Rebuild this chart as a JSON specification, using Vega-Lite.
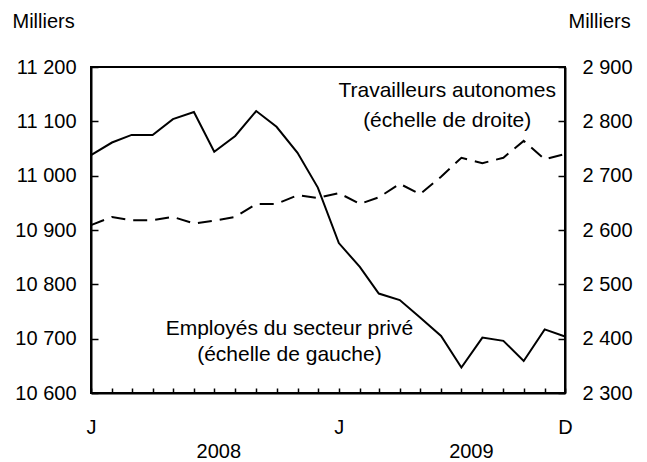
{
  "$schema": "https://vega.github.io/schema/vega-lite/v6.json",
  "width": 474,
  "height": 326,
  "autosize": {"type": "none"},
  "padding": {"left": 91, "top": 67, "right": 82, "bottom": 69},
  "background": "white",
  "config": {
    "font": "Liberation Sans",
    "view": {"stroke": "black", "strokeWidth": 2},
    "axis": {
      "domainColor": "black", "domainWidth": 2, "tickColor": "black", "tickWidth": 1.5,
      "labelColor": "black", "labelFont": "Liberation Sans", "labelFontSize": 20,
      "titleColor": "black", "titleFont": "Liberation Sans", "titleFontSize": 20, "titleFontWeight": "normal",
      "grid": false, "labelOverlap": false, "labelBound": false, "labelFlush": false
    }
  },
  "datasets": {
    "series": [
      {"date": "2008-01-01", "emp": 11038, "self": 2609},
      {"date": "2008-02-01", "emp": 11061, "self": 2624},
      {"date": "2008-03-01", "emp": 11075, "self": 2618},
      {"date": "2008-04-01", "emp": 11075, "self": 2618},
      {"date": "2008-05-01", "emp": 11104, "self": 2624},
      {"date": "2008-06-01", "emp": 11117, "self": 2612},
      {"date": "2008-07-01", "emp": 11044, "self": 2617},
      {"date": "2008-08-01", "emp": 11073, "self": 2624},
      {"date": "2008-09-01", "emp": 11119, "self": 2648},
      {"date": "2008-10-01", "emp": 11090, "self": 2648},
      {"date": "2008-11-01", "emp": 11042, "self": 2664},
      {"date": "2008-12-01", "emp": 10978, "self": 2659},
      {"date": "2009-01-01", "emp": 10876, "self": 2668},
      {"date": "2009-02-01", "emp": 10832, "self": 2648},
      {"date": "2009-03-01", "emp": 10783, "self": 2660},
      {"date": "2009-04-01", "emp": 10771, "self": 2685},
      {"date": "2009-05-01", "emp": 10739, "self": 2666},
      {"date": "2009-06-01", "emp": 10705, "self": 2698},
      {"date": "2009-07-01", "emp": 10647, "self": 2733},
      {"date": "2009-08-01", "emp": 10702, "self": 2723},
      {"date": "2009-09-01", "emp": 10696, "self": 2733},
      {"date": "2009-10-01", "emp": 10659, "self": 2764},
      {"date": "2009-11-01", "emp": 10717, "self": 2730},
      {"date": "2009-12-01", "emp": 10704, "self": 2740}
    ],
    "notesLeft": [
      {"date": "2008-10-20", "emp": 10707, "label": "Employés du secteur privé"},
      {"date": "2008-10-20", "emp": 10659, "label": "(échelle de gauche)"}
    ],
    "notesRight": [
      {"date": "2009-06-10", "self": 2845, "label": "Travailleurs autonomes"},
      {"date": "2009-06-10", "self": 2790, "label": "(échelle de droite)"}
    ],
    "years": [
      {"date": "2008-07-07", "year": "2008"},
      {"date": "2009-07-15", "year": "2009"}
    ]
  },
  "resolve": {"scale": {"y": "independent"}, "axis": {"x": "independent"}},
  "layer": [
    {
      "layer": [
        {
          "data": {"name": "series"},
          "mark": {"type": "line", "color": "black", "strokeWidth": 2},
          "encoding": {
            "x": {
              "field": "date", "type": "temporal",
              "scale": {"type": "utc", "domain": [1199145600000, 1259625600000]},
              "axis": {
                "orient": "bottom",
                "title": null,
                "values": [1199145600000, 1201824000000, 1204329600000, 1207008000000, 1209600000000, 1212278400000, 1214870400000, 1217548800000, 1220227200000, 1222819200000, 1225497600000, 1228089600000, 1230768000000, 1233446400000, 1235865600000, 1238544000000, 1241136000000, 1243814400000, 1246406400000, 1249084800000, 1251763200000, 1254355200000, 1257033600000, 1259625600000],
                "tickCount": 100,
                "labelExpr": "utcmonth(datum.value) == 0 ? 'J' : ((utcmonth(datum.value) == 11 && utcyear(datum.value) == 2009) ? 'D' : '')",
                "tickSize": -5,
                "labelPadding": 39,
                "labelBaseline": "middle"
              }
            },
            "y": {
              "field": "emp", "type": "quantitative",
              "scale": {"domain": [10600, 11200], "nice": false, "zero": false},
              "axis": {
                "orient": "left",
                "values": [10600, 10700, 10800, 10900, 11000, 11100, 11200],
                "tickCount": 100,
                "labelExpr": "replace(format(datum.value, ','), ',', ' ')",
                "tickSize": -7,
                "labelPadding": 22,
                "title": "Milliers",
                "titleAngle": 0, "titleAlign": "left", "titleBaseline": "alphabetic",
                "titleX": -79, "titleY": -40
              }
            }
          }
        },
        {
          "data": {"name": "notesLeft"},
          "mark": {"type": "text", "align": "center", "baseline": "alphabetic", "fontSize": 21, "font": "Liberation Sans", "color": "black"},
          "encoding": {
            "x": {"field": "date", "type": "temporal"},
            "y": {"field": "emp", "type": "quantitative"},
            "text": {"field": "label"}
          }
        }
      ]
    },
    {
      "layer": [
        {
          "data": {"name": "series"},
          "mark": {"type": "line", "color": "black", "strokeWidth": 2, "strokeDash": [14, 8]},
          "encoding": {
            "x": {"field": "date", "type": "temporal", "axis": null},
            "y": {
              "field": "self", "type": "quantitative",
              "scale": {"domain": [2300, 2900], "nice": false, "zero": false},
              "axis": {
                "orient": "right",
                "values": [2300, 2400, 2500, 2600, 2700, 2800, 2900],
                "tickCount": 100,
                "labelExpr": "replace(format(datum.value, ','), ',', ' ')",
                "tickSize": -7,
                "labelPadding": 24,
                "title": "Milliers",
                "titleAngle": 0, "titleAlign": "left", "titleBaseline": "alphabetic",
                "titleX": 3, "titleY": -40
              }
            }
          }
        },
        {
          "data": {"name": "notesRight"},
          "mark": {"type": "text", "align": "center", "baseline": "alphabetic", "fontSize": 21, "font": "Liberation Sans", "color": "black"},
          "encoding": {
            "x": {"field": "date", "type": "temporal"},
            "y": {"field": "self", "type": "quantitative"},
            "text": {"field": "label"}
          }
        }
      ]
    },
    {
      "data": {"name": "years"},
      "mark": {"type": "text", "opacity": 0},
      "encoding": {
        "x": {
          "field": "date", "type": "temporal",
          "axis": {
            "orient": "bottom",
            "title": null,
            "values": [1215388800000, 1247616000000],
            "labelExpr": "'' + utcyear(datum.value)",
            "ticks": false, "domain": false,
            "labelPadding": 58,
            "labelBaseline": "middle"
          }
        },
        "text": {"field": "year"}
      }
    }
  ]
}
